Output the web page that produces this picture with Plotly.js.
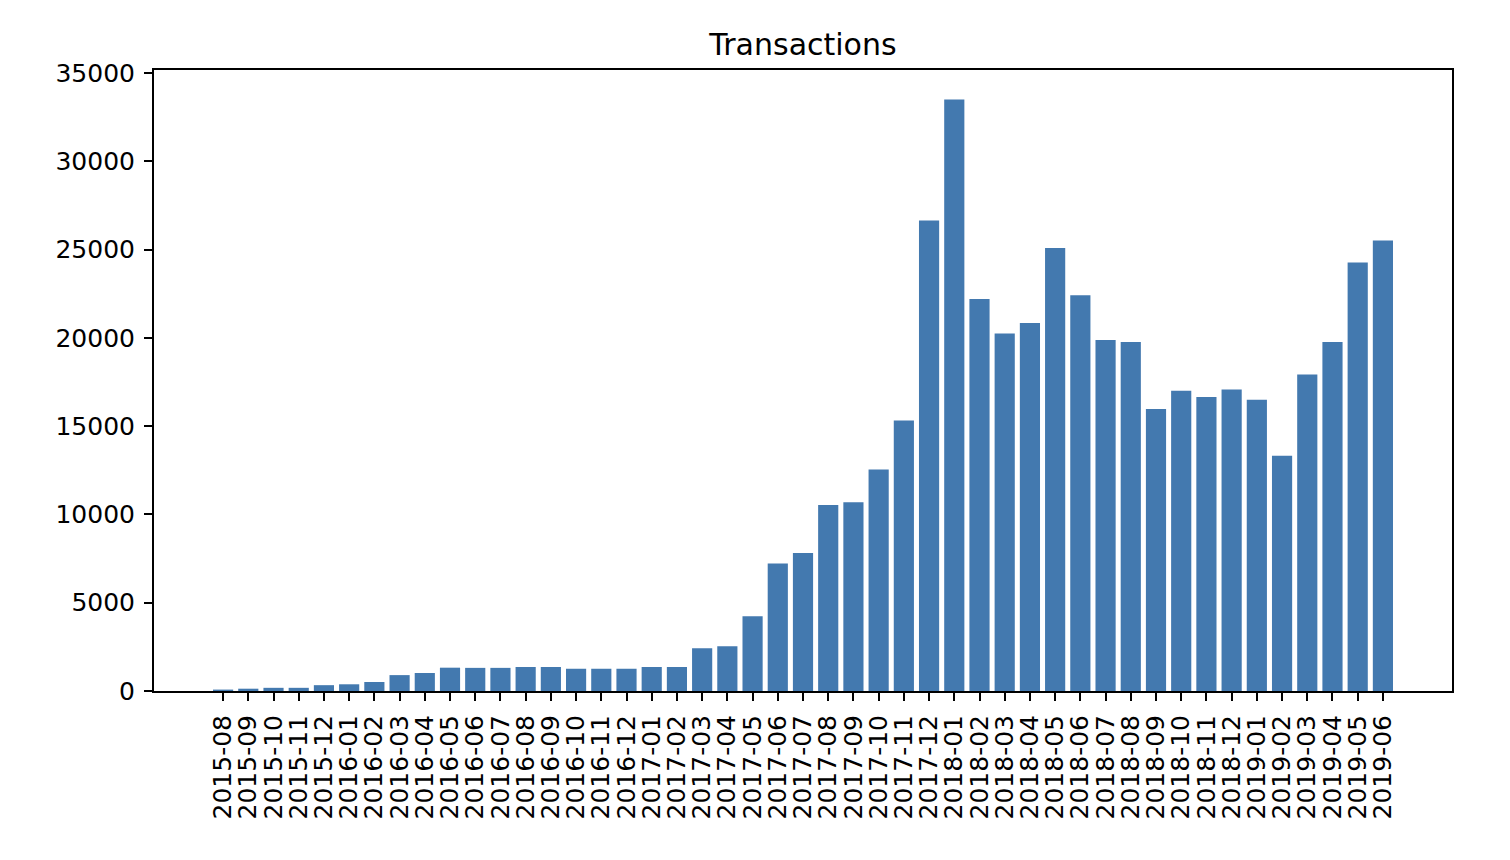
<!DOCTYPE html>
<html>
<head>
<meta charset="utf-8">
<script src="https://cdn.plot.ly/plotly-3.0.1.min.js"></script>
<style>html,body{margin:0;padding:0;background:#fff;}#chart{width:1510px;height:860px;}</style>
</head>
<body>
<div id="chart"></div>
<script>
const months = ["2015-08","2015-09","2015-10","2015-11","2015-12","2016-01","2016-02","2016-03","2016-04","2016-05","2016-06","2016-07","2016-08","2016-09","2016-10","2016-11","2016-12","2017-01","2017-02","2017-03","2017-04","2017-05","2017-06","2017-07","2017-08","2017-09","2017-10","2017-11","2017-12","2018-01","2018-02","2018-03","2018-04","2018-05","2018-06","2018-07","2018-08","2018-09","2018-10","2018-11","2018-12","2019-01","2019-02","2019-03","2019-04","2019-05","2019-06"];
const transactions = [80,130,180,180,330,380,510,900,1020,1320,1310,1310,1360,1360,1260,1260,1260,1360,1360,2420,2530,4240,7220,7820,10530,10690,12540,15320,26650,33500,22200,20240,20840,25090,22420,19880,19760,15970,17010,16650,17070,16500,13330,17930,19760,24270,25520];
const yTicks = [0,5000,10000,15000,20000,25000,30000,35000];

const idx = months.map((m,i)=>i);
const font = {family: "DejaVu Sans, sans-serif", color: "#000"};

Plotly.newPlot("chart", [{
  type: "bar",
  x: idx,
  y: transactions,
  width: 0.8,
  marker: {color: "#4379AF", line: {width: 0}},
  hoverinfo: "skip"
}], {
  width: 1510, height: 860,
  margin: {l: 154, r: 58, t: 70, b: 169, pad: 0},
  paper_bgcolor: "#fff", plot_bgcolor: "#fff",
  showlegend: false,
  title: {text: "Transactions", font: Object.assign({size: 30}, font), x: 0.5, xanchor: "center", xref: "paper", y: 1 - 44/860, yref: "container", yanchor: "middle"},
  xaxis: {
    range: [-2.74, 48.74],
    tickmode: "array", tickvals: idx, ticktext: months,
    tickangle: -90,
    ticks: "outside", ticklen: 8, tickwidth: 2, tickcolor: "#000",
    ticklabelstandoff: 4,
    showline: true, linecolor: "#000", linewidth: 2, mirror: true,
    showgrid: false, zeroline: false,
    tickfont: Object.assign({size: 25}, font),
    fixedrange: true
  },
  yaxis: {
    range: [0, 35170],
    tickmode: "array", tickvals: yTicks, ticktext: yTicks.map(String),
    ticks: "outside", ticklen: 8, tickwidth: 2, tickcolor: "#000",
    ticklabelstandoff: 4,
    showline: true, linecolor: "#000", linewidth: 2, mirror: true,
    showgrid: false, zeroline: false,
    tickfont: Object.assign({size: 25}, font),
    fixedrange: true
  }
}, {displayModeBar: false, staticPlot: true});
</script>
</body>
</html>
